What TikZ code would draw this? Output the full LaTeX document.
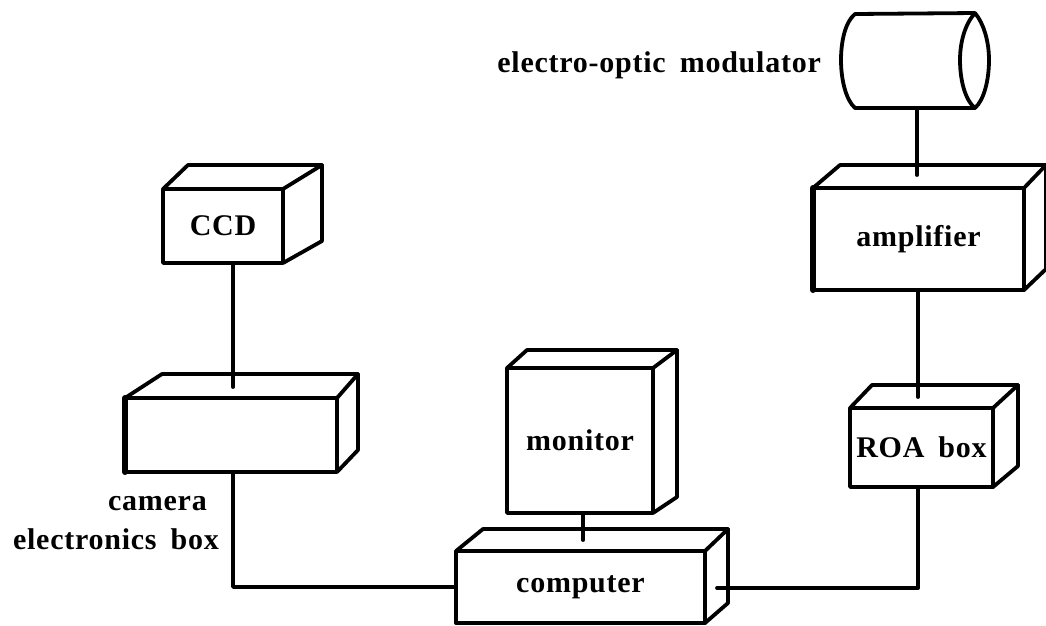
\documentclass[tikz,border=0pt]{standalone}
\usepackage{fontspec}
\setmainfont[LetterSpace=2.5,WordSpace=1.7]{Liberation Serif}
\usetikzlibrary{calc}
\tikzset{
  ink/.style={line width=3.8pt,line join=round,line cap=round,black},
  frontbox/.style={ink,draw,rectangle,inner sep=0pt,outer sep=0pt,font=\fontsize{30}{32}\selectfont\bfseries},
  label/.style={inner sep=0pt,font=\fontsize{30}{32}\selectfont\bfseries,anchor=base east},
  wire/.style={ink,line cap=round}
}
% #1 name, #2 x1, #3 y1, #4 x2, #5 y2, #6 back-left x, #7 back y, #8 back-right x, #9 text
\newcommand{\cuboid}[9]{%
  \node[frontbox,minimum width={(#4-#2)*1pt},minimum height={(#5-#3)*1pt}] (#1) at ({(#2+#4)/2},{(#3+#5)/2}) {#9};
  \coordinate (#1 bl) at (#6,#7);
  \coordinate (#1 br) at (#8,#7);
  \coordinate (#1 bb) at (#8,{#5-(#3-#7)+2});
  \draw[ink] (#1.north west) -- (#1 bl) -- (#1 br) -- (#1.north east);
  \draw[ink] (#1 br) -- (#1 bb) -- (#1.south east);
}
\begin{document}
\begin{tikzpicture}[x=1pt,y=-1pt]
\useasboundingbox (0,0) rectangle (1046,625);
\cuboid{ccd}{163}{189}{283}{263}{188}{165}{322}{CCD}
\cuboid{cam}{125}{398}{337}{472}{162}{374}{358}{}
\cuboid{mon}{507}{368}{653}{513}{527}{350}{677}{monitor}
\cuboid{comp}{456}{551}{705}{623}{483}{529}{728}{computer}
\cuboid{amp}{813}{188}{1024}{290}{840}{165}{1046}{amplifier}
\cuboid{roa}{850}{408}{993}{487}{872}{385}{1018}{ROA box}
% extra weight on hand-drawn left edges
\draw[ink,line width=6pt] (amp.north west) -- (amp.south west);
\draw[ink,line width=6pt] (cam.north west) -- (cam.south west);
% cylinder
\coordinate (eomT) at (975,13);
\coordinate (eomB) at (975,108);
\coordinate (eomS) at (917,108);
\draw[ink] (eomT) -- (855,14) .. controls (845,22) and (841,42) .. (841,60)
  .. controls (841,80) and (846,100) .. (855,108) -- (eomB);
\draw[ink] (eomT) .. controls (984,24) and (989,42) .. (989,60)
  .. controls (989,80) and (984,100) .. (975,108)
  .. controls (965,100) and (960,80) .. (960,60)
  .. controls (960,42) and (965,24) .. (975,13);
% labels
\node[label] (eomL) at (821,72) {electro-optic modulator};
\node[label] (camL1) at (207,510) {camera};
\node[label] (camL2) at (219,549) {electronics box};
% connectors
\coordinate (ampIn) at (917,175);
\coordinate (roaIn) at (918,397);
\coordinate (camIn) at (233,387);
\coordinate (compIn) at (583,540);
\coordinate (compOut) at (717,588);
\draw[wire] (eomS) -- (ampIn);
\draw[wire] (amp.south -| roaIn) -- (roaIn);
\draw[wire] (ccd.south -| camIn) -- (camIn);
\draw[wire] (mon.south -| compIn) -- (compIn);
\draw[wire] (cam.south -| camIn) |- (comp.west);
\draw[wire] (roa.south -| roaIn) |- (compOut);
\end{tikzpicture}
\end{document}
